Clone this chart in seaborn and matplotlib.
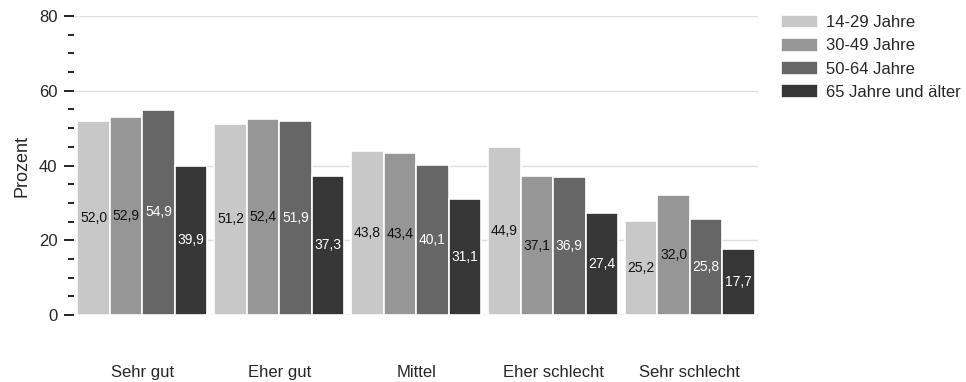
import matplotlib
matplotlib.use("Agg")
import matplotlib.pyplot as plt
import numpy as np
import pandas as pd
import seaborn as sns
from matplotlib.ticker import MultipleLocator

# Chart data
categories = ["Sehr gut", "Eher gut", "Mittel", "Eher schlecht", "Sehr schlecht"]
age_groups = ["14-29 Jahre", "30-49 Jahre", "50-64 Jahre", "65 Jahre und älter"]
values_14_29 = [52.0, 51.2, 43.8, 44.9, 25.2]
values_30_49 = [52.9, 52.4, 43.4, 37.1, 32.0]
values_50_64 = [54.9, 51.9, 40.1, 36.9, 25.8]
values_65_plus = [39.9, 37.3, 31.1, 27.4, 17.7]

colors = ["#c8c8c8", "#969696", "#666666", "#363636"]
label_colors = ["#111111", "#111111", "white", "white"]

series = [values_14_29, values_30_49, values_50_64, values_65_plus]
df = pd.DataFrame({
    "Kategorie": np.repeat([categories], len(age_groups), axis=0).ravel(),
    "Alter": np.repeat(age_groups, len(categories)),
    "Prozent": np.concatenate(series),
})

sns.set_style("white")
plt.rcParams["font.family"] = ["Liberation Sans", "DejaVu Sans"]

fig = plt.figure(figsize=(9.66, 3.82), dpi=100)
ax = fig.add_axes([0.0766, 0.1754, 0.785 - 0.0766, 0.958 - 0.1754])

sns.barplot(data=df, x="Kategorie", y="Prozent", hue="Alter", order=categories,
            hue_order=age_groups, palette=colors, width=0.95, ax=ax,
            edgecolor="white", linewidth=1.2, saturation=1, errorbar=None)

# value labels in the middle of each bar
for cont, tc in zip(ax.containers, label_colors):
    for bar in cont:
        h = bar.get_height()
        ax.text(bar.get_x() + bar.get_width() / 2, h / 2, f"{h:.1f}".replace(".", ","),
                ha="center", va="center", fontsize=10, color=tc)

ax.set_ylim(0, 80)
ax.set_xlim(-0.5, len(categories) - 0.5)
ax.yaxis.set_major_locator(MultipleLocator(20))
ax.yaxis.set_minor_locator(MultipleLocator(5))
ax.grid(axis="y", which="major", color="#e0e0e0", linewidth=1)
ax.set_axisbelow(True)
ax.axhline(0, color="#d0d0d0", linewidth=1, zorder=0)
for s in ax.spines.values():
    s.set_visible(False)

ax.tick_params(axis="y", which="major", length=7, width=1.2, color="black",
               left=True, labelsize=12, pad=5)
ax.tick_params(axis="y", which="minor", length=4.5, width=1.2, color="black", left=True)
ax.tick_params(axis="x", length=0, labelsize=12, pad=36)
ax.set_xlabel("")
ax.set_ylabel("Prozent", fontsize=13, labelpad=6)

ax.legend(loc="upper left", bbox_to_anchor=((781 - 74) / 684, 1.005), frameon=False,
          fontsize=12, handlelength=2.2, handleheight=0.9, labelspacing=0.45,
          handletextpad=0.5, borderaxespad=0, borderpad=0)

fig.savefig("out.png", dpi=100)
